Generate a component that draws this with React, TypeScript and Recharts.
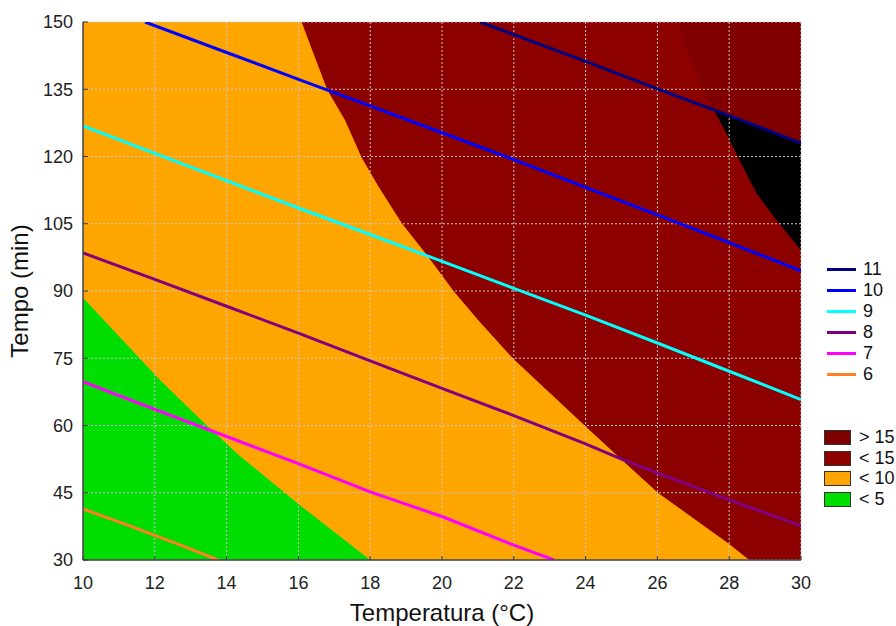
import { ComposedChart, Area, Line, XAxis, YAxis, CartesianGrid } from "recharts";

type Pt = { temp: number; tempo: number };
const pts = (rows: number[][]): Pt[] => rows.map(([temp, tempo]) => ({ temp, tempo }));

const FONT = '"Liberation Sans", Arial, sans-serif';

const tempTicks = [10, 12, 14, 16, 18, 20, 22, 24, 26, 28, 30];
const tempoTicks = [30, 45, 60, 75, 90, 105, 120, 135, 150];
const topTicks = [0, 1, 2, 3, 4, 5, 6, 7, 8, 9, 10, 11, 12];
const rightTicks = [0, 1, 2, 3, 4, 5, 6, 7];

// filled response bands
const bandUnder15 = pts([[10, 150], [30, 150]]);
const bandUnder10 = pts([
  [10, 150], [16.09, 150], [16.42, 143], [16.81, 134.8], [17.3, 128.1], [17.76, 119.8],
  [18.23, 113.3], [18.88, 105.1], [19.62, 97.6], [20.31, 90.1], [21.01, 83.5],
  [21.97, 75], [24.01, 59.7], [24.96, 52.7], [26.03, 44.9], [27.98, 33.7], [28.56, 30],
]);
const bandUnder5 = pts([
  [10, 88.5], [12.15, 70.1], [13.45, 60], [14.37, 53.2], [16, 42.5], [18, 30],
]);
const bandOver15 = pts([
  [26.61, 150], [26.95, 141.5], [27.6, 130], [27.97, 124.4], [28.25, 119.8],
  [28.76, 111.8], [29.32, 105.8], [30, 99.1],
]);
// part of the >15 band that sits above the 11 contour
const bandOver15Upper = pts([[26.61, 150], [26.95, 141.5], [27.6, 130], [28, 129.1], [30, 123]]);

// contour lines
const iso11 = pts([[21.06, 150], [22, 147.2], [24, 141.2], [26, 135.1], [28, 129.1], [30, 123]]);
const iso10 = pts([
  [11.73, 150], [14, 143.2], [16.04, 137.1], [18, 131.3], [20, 125.3], [22, 119.3],
  [24.4, 111.9], [26, 107], [28, 100.8], [30, 94.5],
]);
const iso9 = pts([
  [10, 126.8], [12, 120.7], [14, 114.6], [16.04, 108.4], [18, 102.6], [19.67, 97.6],
  [22, 90.6], [22.73, 88.4], [24, 84.6], [26, 78.4], [28, 72.1], [30, 65.8],
]);
const iso8 = pts([
  [10, 98.5], [12, 92.6], [14, 86.6], [16, 80.6], [18, 74.4], [20, 68.3], [22, 62.2],
  [24, 55.9], [25, 52.5], [26, 49.4], [28, 43.4], [30, 37.6],
]);
const iso7 = pts([
  [10, 69.8], [12, 63.6], [13.65, 58.6], [16, 51.5], [18, 45.2], [20, 39.7], [22, 33.3],
  [23.12, 30],
]);
const iso6 = pts([[10, 41.4], [11.3, 37.6], [12.5, 34], [13.77, 30]]);

const contours = [
  { level: "11", color: "#000080", data: iso11 },
  { level: "10", color: "#0000ff", data: iso10 },
  { level: "9", color: "#00ffff", data: iso9 },
  { level: "8", color: "#800080", data: iso8 },
  { level: "7", color: "#ff00ff", data: iso7 },
  { level: "6", color: "#ff7f27", data: iso6 },
];

const bandKeys = [
  { label: "> 15", color: "#7d0000" },
  { label: "< 15", color: "#8c0000" },
  { label: "< 10", color: "#ffa500" },
  { label: "< 5", color: "#00dd00" },
];

const tickStyle = { fontSize: 18, fill: "#222", fontFamily: FONT };

const YTitle = ({ viewBox }: any) => {
  const cy = viewBox.y + viewBox.height / 2;
  return (
    <text x={28} y={cy} transform={`rotate(-90, 28, ${cy})`} textAnchor="middle"
      style={{ fontSize: 24, fontFamily: FONT, fill: "#111" }}>
      Tempo (min)
    </text>
  );
};

const band = (data: Pt[], fill: string, base?: number) => (
  <Area
    data={data}
    dataKey="tempo"
    type="linear"
    stroke="none"
    fill={fill}
    fillOpacity={1}
    baseValue={base}
    dot={false}
    activeDot={false}
    isAnimationActive={false}
  />
);

export default function App() {
  return (
    <div style={{ position: "fixed", left: 0, top: 0, width: 896, height: 626, background: "#fff" }}>
      <ComposedChart width={896} height={626} margin={{ top: 22, right: 95, bottom: 0, left: 0 }}>
        <XAxis
          dataKey="temp"
          type="number"
          domain={[10, 30]}
          ticks={tempTicks}
          allowDataOverflow
          height={66}
          tickSize={-4}
          tickMargin={20}
          tick={tickStyle}
          tickLine={{ stroke: "#333" }}
          axisLine={{ stroke: "#444", strokeWidth: 1.5 }}
          label={{ value: "Temperatura (°C)", position: "insideBottom", offset: 5, style: { fontSize: 24, fontFamily: FONT, fill: "#111" } }}
        />
        <YAxis
          dataKey="tempo"
          type="number"
          domain={[30, 150]}
          ticks={tempoTicks}
          allowDataOverflow
          width={83}
          tickSize={-5}
          tickMargin={15}
          tick={tickStyle}
          tickLine={{ stroke: "#333" }}
          axisLine={{ stroke: "#444", strokeWidth: 1.5 }}
          label={<YTitle />}
        />
        <XAxis xAxisId="top" orientation="top" type="number" domain={[0, 12]} ticks={topTicks}
          height={0} tick={false} tickSize={-3} tickLine={{ stroke: "#333" }} axisLine={{ stroke: "#888" }} />
        <YAxis yAxisId="right" orientation="right" type="number" domain={[0, 7]} ticks={rightTicks}
          width={0} tick={false} tickSize={-4} tickLine={{ stroke: "#333" }} axisLine={{ stroke: "#888" }} />

        {band(bandUnder15, "#8c0000")}
        {band(bandUnder10, "#ffa500")}
        {band(bandUnder5, "#00dd00")}
        {band(bandOver15, "#000000", 150)}
        {band(bandOver15Upper, "#800000", 150)}

        <CartesianGrid stroke="#c8c8c8" strokeDasharray="2 2" strokeWidth={1} zIndex={300} />

        {contours.map((c) => (
          <Line
            key={c.level}
            data={c.data}
            dataKey="tempo"
            type="linear"
            stroke={c.color}
            strokeWidth={3}
            dot={false}
            activeDot={false}
            isAnimationActive={false}
          />
        ))}
      </ComposedChart>

      <div style={{ position: "absolute", left: 827, top: 259, fontFamily: FONT, fontSize: 18, color: "#111" }}>
        {contours.map((c) => (
          <div key={c.level} style={{ display: "flex", alignItems: "center", height: 21 }}>
            <span style={{ display: "inline-block", width: 29, height: 3, background: c.color, marginRight: 7 }} />
            <span>{c.level}</span>
          </div>
        ))}
      </div>
      <div style={{ position: "absolute", left: 824, top: 427, fontFamily: FONT, fontSize: 18, color: "#111" }}>
        {bandKeys.map((b) => (
          <div key={b.label} style={{ display: "flex", alignItems: "center", height: 20.7 }}>
            <span style={{ display: "inline-block", width: 25, height: 13, background: b.color, border: "1.5px solid #333", marginRight: 8 }} />
            <span>{b.label}</span>
          </div>
        ))}
      </div>
    </div>
  );
}
